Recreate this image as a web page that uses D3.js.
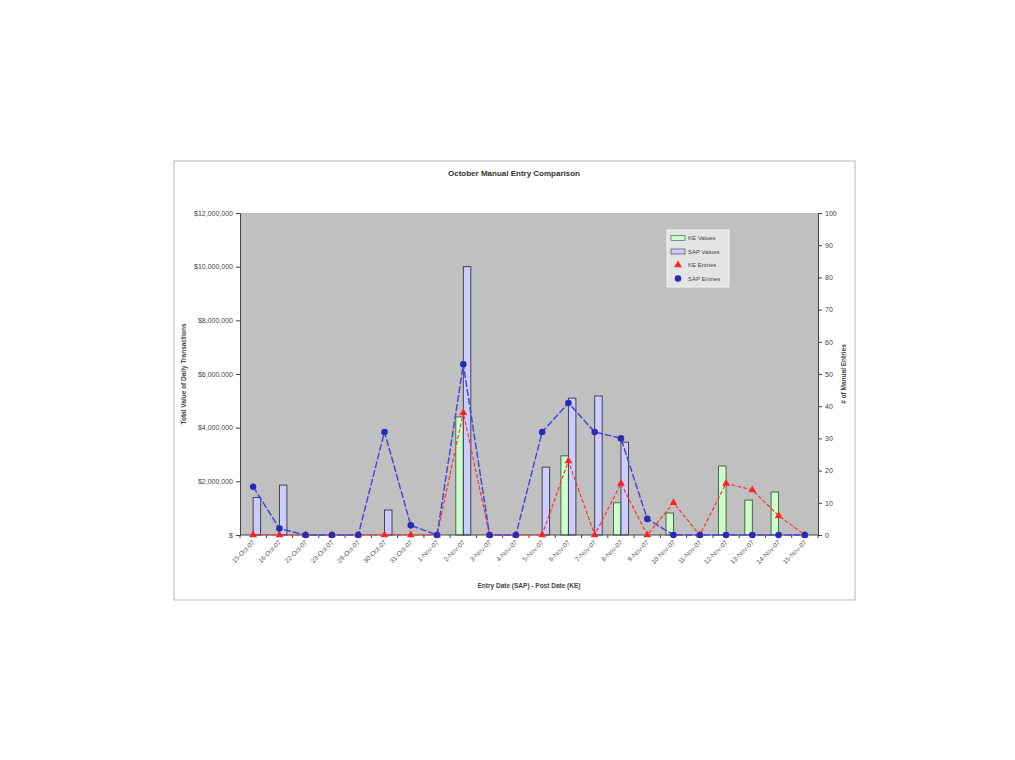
<!DOCTYPE html>
<html>
<head>
<meta charset="utf-8">
<script src="https://cdn.jsdelivr.net/npm/d3@7/dist/d3.min.js"></script>
<style>
  body { margin: 0; background: #fff; }
  svg { display: block; font-family: "Liberation Sans", Arial, sans-serif; }
</style>
</head>
<body>
<svg id="chart" width="1015" height="760"></svg>
<script>
const categories = ["15-Oct-07","16-Oct-07","22-Oct-07","23-Oct-07","29-Oct-07","30-Oct-07","31-Oct-07",
  "1-Nov-07","2-Nov-07","3-Nov-07","4-Nov-07","5-Nov-07","6-Nov-07","7-Nov-07","8-Nov-07","9-Nov-07",
  "10-Nov-07","11-Nov-07","12-Nov-07","13-Nov-07","14-Nov-07","15-Nov-07"];
const keValues  = [0,0,0,0,0,0,0,0,4400000,0,0,0,2950000,0,1200000,0,820000,0,2570000,1300000,1600000,0];
const sapValues = [1400000,1860000,0,0,0,930000,0,0,10000000,0,0,2530000,5100000,5180000,3460000,0,0,0,0,0,0,0];
const keEntries  = [0,0,0,0,0,0,0,0,38,0,0,0,23,0,16,0,10,0,16,14,6,0];
const sapEntries = [15,2,0,0,0,32,3,0,53,0,0,32,41,32,30,5,0,0,0,0,0,0];
const leftTicks = [0,2000000,4000000,6000000,8000000,10000000,12000000];
const rightTicks = [0,10,20,30,40,50,60,70,80,90,100];
const seriesNames = ["KE Values","SAP Values","KE Entries","SAP Entries"];

const svg = d3.select("#chart");
const L = 240, R = 818, T = 213, B = 535;

// chart area
svg.append("rect").attr("x",174).attr("y",161).attr("width",681).attr("height",439)
  .attr("fill","#fff").attr("stroke","#b8b8b8").attr("stroke-width",1);

// plot area
svg.append("rect").attr("x",L).attr("y",T).attr("width",R-L).attr("height",B-T)
  .attr("fill","#c0c0c0");

const x = d3.scaleBand().domain(categories).range([L,R]).padding(0);
const yL = d3.scaleLinear().domain([0,12000000]).range([B,T]);
const yR = d3.scaleLinear().domain([0,100]).range([B,T]);
const bw = 7.5;
const cx = d => x(d) + x.bandwidth()/2;

// title
svg.append("text").attr("x",514).attr("y",176).attr("text-anchor","middle")
  .attr("font-size",8).attr("font-weight","bold").attr("fill","#333").text("October Manual Entry Comparison");

// bars
const g = svg.append("g");
g.selectAll(".ke").data(categories).enter().append("rect")
  .attr("x",(d)=>cx(d)-bw).attr("width",bw)
  .attr("y",(d,i)=>yL(keValues[i])).attr("height",(d,i)=>B-yL(keValues[i]))
  .attr("fill","#ccffcc").attr("stroke","#3a5a3a").attr("stroke-width",0.9)
  .style("display",(d,i)=>keValues[i]>0?null:"none");
g.selectAll(".sap").data(categories).enter().append("rect")
  .attr("x",(d)=>cx(d)).attr("width",bw)
  .attr("y",(d,i)=>yL(sapValues[i])).attr("height",(d,i)=>B-yL(sapValues[i]))
  .attr("fill","#ccccff").attr("stroke","#333344").attr("stroke-width",0.9)
  .style("display",(d,i)=>sapValues[i]>0?null:"none");

// axes
const axL = d3.axisLeft(yL).tickValues(leftTicks).tickSize(4).tickFormat(d=> d===0 ? "$" : d3.format("$,")(d));
const gL = svg.append("g").attr("transform",`translate(${L},0)`).call(axL);
gL.selectAll("text").attr("font-size",7).attr("fill","#444");
gL.select(".domain").attr("stroke","#444");
gL.selectAll(".tick line").attr("stroke","#444");

const axR = d3.axisRight(yR).tickValues(rightTicks).tickSize(4);
const gR = svg.append("g").attr("transform",`translate(${R},0)`).call(axR);
gR.selectAll("text").attr("font-size",7).attr("fill","#444");
gR.select(".domain").attr("stroke","#444");
gR.selectAll(".tick line").attr("stroke","#444");

// x axis
const gX = svg.append("g").attr("transform",`translate(0,${B})`);
gX.append("line").attr("x1",L).attr("x2",R).attr("stroke","#444");
gX.selectAll(".tk").data(categories.concat(["end"])).enter().append("line")
  .attr("x1",(d,i)=> i<categories.length ? x(d) : R).attr("x2",(d,i)=> i<categories.length ? x(d) : R)
  .attr("y1",0).attr("y2",3).attr("stroke","#444");
gX.selectAll(".lbl").data(categories).enter().append("text")
  .attr("transform",d=>`translate(${cx(d)+2},8) rotate(-45)`)
  .attr("text-anchor","end").attr("font-size",6.5).attr("fill","#555").text(d=>d);

// lines
const lineFn = d3.line().x((d,i)=>cx(categories[i])).y(d=>yR(d));
svg.append("path").datum(keEntries).attr("d",lineFn).attr("fill","none")
  .attr("stroke","#ff3333").attr("stroke-width",1.2).attr("stroke-dasharray","4,2");
svg.append("g").selectAll("path").data(keEntries).enter().append("path")
  .attr("d",d3.symbol().type(d3.symbolTriangle).size(26))
  .attr("transform",(d,i)=>`translate(${cx(categories[i])},${yR(d)})`).attr("fill","#ff2222");

svg.append("path").datum(sapEntries).attr("d",lineFn).attr("fill","none")
  .attr("stroke","#4848d8").attr("stroke-width",1.5).attr("stroke-dasharray","7,2");
svg.append("g").selectAll("circle").data(sapEntries).enter().append("circle")
  .attr("cx",(d,i)=>cx(categories[i])).attr("cy",d=>yR(d)).attr("r",3.3)
  .attr("fill","#2a2ab8");

// axis titles
svg.append("text").attr("transform","translate(186,374) rotate(-90)").attr("text-anchor","middle")
  .attr("font-size",6.5).attr("font-weight","bold").attr("fill","#444").text("Total Value of Daily Transactions");
svg.append("text").attr("transform","translate(846,374) rotate(-90)").attr("text-anchor","middle")
  .attr("font-size",6.5).attr("font-weight","bold").attr("fill","#444").text("# of Manual Entries");
svg.append("text").attr("x",529).attr("y",588).attr("text-anchor","middle")
  .attr("font-size",6.5).attr("font-weight","bold").attr("fill","#444").text("Entry Date (SAP) - Post Date (KE)");

// legend
const lg = svg.append("g").attr("transform","translate(667,230)");
lg.append("rect").attr("width",62).attr("height",57).attr("fill","#e4e4e4").attr("stroke","#f4f4f4");
seriesNames.forEach((n,i)=>{
  const yy = 8 + i*13.5;
  if (i<2) {
    lg.append("rect").attr("x",4).attr("y",yy-2.5).attr("width",14).attr("height",5)
      .attr("fill", i===0?"#ccffcc":"#ccccff").attr("stroke", i===0?"#3a5a3a":"#333344").attr("stroke-width",0.6);
  } else if (i===2) {
    lg.append("path").attr("d",d3.symbol().type(d3.symbolTriangle).size(26)).attr("transform",`translate(11,${yy})`).attr("fill","#ff2222");
  } else {
    lg.append("circle").attr("cx",11).attr("cy",yy).attr("r",3.3).attr("fill","#2a2ab8");
  }
  lg.append("text").attr("x",21).attr("y",yy+2.2).attr("font-size",6).attr("fill","#444").text(n);
});
</script>
</body>
</html>
